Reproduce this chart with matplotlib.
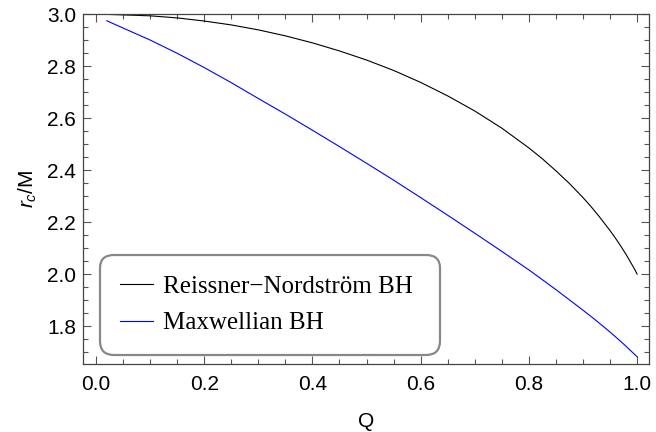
import matplotlib
matplotlib.use("Agg")
import matplotlib.pyplot as plt
from matplotlib.ticker import MultipleLocator, FormatStrFormatter

# valeurs
q_rn = [0.0, 0.1, 0.15, 0.2, 0.25, 0.3, 0.35, 0.4, 0.45, 0.5, 0.55, 0.6, 0.65, 0.7, 0.75,
        0.8, 0.825, 0.85, 0.875, 0.9, 0.915, 0.93, 0.95, 0.96, 0.97, 0.98, 0.99, 0.995, 1.0]
r_rn = [3.0, 2.993, 2.985, 2.973, 2.958, 2.939, 2.916, 2.889, 2.858, 2.823, 2.783, 2.737, 2.685, 2.627, 2.561,
        2.485, 2.443, 2.397, 2.348, 2.294, 2.259, 2.221, 2.167, 2.138, 2.107, 2.074, 2.038, 2.020, 2.0]

q_max = [0.02, 0.05, 0.1, 0.15, 0.2, 0.25, 0.3, 0.35, 0.4, 0.45, 0.5, 0.55, 0.6, 0.65, 0.7, 0.75,
         0.8, 0.85, 0.9, 0.925, 0.95, 0.975, 1.0]
r_max = [2.974, 2.946, 2.900, 2.849, 2.794, 2.736, 2.675, 2.615, 2.553, 2.490, 2.426, 2.361, 2.294, 2.226,
         2.157, 2.087, 2.016, 1.940, 1.861, 1.820, 1.777, 1.731, 1.682]

labels = ["Reissner\u2212Nordstr\u00f6m BH", "Maxwellian BH"]

plt.rcParams['font.family'] = ['Liberation Sans', 'DejaVu Sans']
plt.rcParams['mathtext.fontset'] = 'custom'
plt.rcParams['mathtext.it'] = 'Liberation Sans:italic'
plt.rcParams['mathtext.rm'] = 'Liberation Sans'

fig = plt.figure(figsize=(6.56, 4.32), dpi=100)
ax = fig.add_axes([83/656, 1 - 364/432, 566/656, 350/432])

ax.plot(q_rn, r_rn, color='black', lw=0.8, label=labels[0])
ax.plot(q_max, r_max, color='#0000ff', lw=0.8, label=labels[1])

ax.set_xlim(-0.024, 1.022)
ax.set_ylim(1.654, 3.0)
ax.xaxis.set_major_locator(MultipleLocator(0.2))
ax.xaxis.set_minor_locator(MultipleLocator(0.05))
ax.yaxis.set_major_locator(MultipleLocator(0.2))
ax.yaxis.set_minor_locator(MultipleLocator(0.05))
ax.xaxis.set_major_formatter(FormatStrFormatter('%.1f'))
ax.yaxis.set_major_formatter(FormatStrFormatter('%.1f'))
ax.tick_params(which='both', direction='in', top=True, right=True, colors='#555555',
               labelcolor='black', labelsize=15, width=0.8)
ax.tick_params(which='major', length=6)
ax.tick_params(which='minor', length=3.5)
ax.tick_params(axis='x', which='major', pad=8)
ax.tick_params(axis='y', which='major', pad=5)
for s in ax.spines.values():
    s.set_color('#444444')
    s.set_linewidth(0.9)

ax.set_xlabel("Q", fontsize=15, labelpad=13)
ax.set_ylabel(r"$r_c$/M", fontsize=15, labelpad=6)

leg = ax.legend(loc='lower left', bbox_to_anchor=(0.030, 0.026, 0.601, 0.285), mode='expand',
                borderaxespad=0, prop={'family': 'Liberation Serif', 'size': 18},
                handlelength=1.32, handletextpad=0.4, labelspacing=0.57, borderpad=0.82,
                fancybox=True, framealpha=1, edgecolor='#888888')
leg.get_frame().set_linewidth(1.6)
leg.get_frame().set_boxstyle('round,pad=0,rounding_size=0.55')

fig.savefig("out.png", dpi=100)
